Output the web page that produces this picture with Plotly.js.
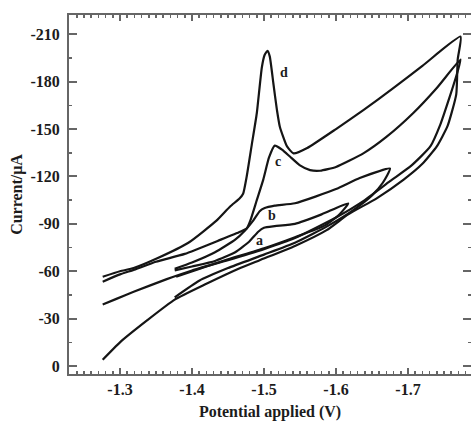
<!DOCTYPE html>
<html>
<head>
<meta charset="utf-8">
<script src="https://cdn.plot.ly/plotly-3.0.1.min.js"></script>
<style>
html,body{margin:0;padding:0;overflow:hidden;background:#fff;}
#chart{width:471px;height:421px;}
</style>
</head>
<body>
<div id="chart"></div>
<script>
// Curve a (forward then return)
var aX = [-1.376,-1.400,-1.432,-1.460,-1.480,-1.492,-1.500,-1.515,-1.543,-1.580,-1.617,
          -1.605,-1.585,-1.543,-1.500,-1.450,-1.410,-1.378];
var aY = [-60.5,-63,-66.5,-72,-79,-85,-87.5,-88.5,-90,-96,-103,
          -96,-89,-81.5,-74.5,-67.5,-61.5,-56.5];
// Curve b
var bX = [-1.376,-1.400,-1.432,-1.460,-1.474,-1.485,-1.494,-1.501,-1.515,-1.543,-1.600,-1.633,-1.675,
          -1.665,-1.650,-1.625,-1.590,-1.543,-1.500,-1.450,-1.410,-1.376];
var bY = [-61.5,-65.5,-72,-80,-86,-92,-98,-100,-101.5,-103,-112,-119,-125,
          -116,-108,-99,-89,-78,-70.5,-62,-54,-43.5];
// Curve c
var cX = [-1.276,-1.300,-1.320,-1.350,-1.390,-1.440,-1.467,-1.476,-1.481,-1.490,-1.499,-1.507,-1.515,-1.525,-1.536,-1.550,-1.564,-1.578,-1.600,-1.638,-1.670,-1.707,-1.740,-1.773,
          -1.768,-1.758,-1.745,-1.731,-1.705,-1.675,-1.640,-1.600,-1.543,-1.500,-1.450,-1.400,-1.365,-1.319,-1.295,-1.276];
var cY = [-53.4,-58,-61,-66,-71,-80,-85,-87,-92,-105,-118,-132,-139.5,-137,-132.6,-127,-124,-123.6,-126,-134.6,-145,-160,-176,-194,
          -185,-170.5,-153,-139,-127,-117,-105,-94,-81,-74,-67,-60.5,-55,-47,-42.5,-39];
// Curve d
var dX = [-1.276,-1.300,-1.319,-1.351,-1.395,-1.434,-1.453,-1.466,-1.471,-1.476,-1.483,-1.490,-1.497,-1.501,-1.505,-1.508,-1.513,-1.518,-1.522,-1.532,-1.541,-1.560,-1.600,-1.638,-1.680,-1.720,-1.773,
          -1.769,-1.767,-1.755,-1.740,-1.720,-1.694,-1.656,-1.617,-1.587,-1.543,-1.494,-1.467,-1.420,-1.376,-1.338,-1.300,-1.276];
var dY = [-56.5,-60,-62,-68,-78,-92,-101,-106,-109,-120,-140,-160,-189,-197,-199.5,-196,-179,-162,-151.5,-139,-134.6,-138,-150,-162,-176,-190,-208.5,
          -194,-172,-152,-139,-128,-118,-106,-96,-86,-76,-67,-62,-52,-42,-29,-15,-4];

var labels = ['a','b','c','d'];
var labelX = [-1.4944,-1.5107,-1.5199,-1.5278];
var labelY = [-79.3,-95,-129.3,-185.6];

var xTicks = [-1.3,-1.4,-1.5,-1.6,-1.7];
var xTickText = ['-1.3','-1.4','-1.5','-1.6','-1.7'];
var yTicks = [0,-30,-60,-90,-120,-150,-180,-210];
var yTickText = ['0','-30','-60','-90','-120','-150','-180','-210'];

var lineStyle = {color:'#151515', width:2.2, shape:'spline', smoothing:0.5};
function tr(x,y){ return {x:x, y:y, mode:'lines', line:lineStyle, hoverinfo:'skip', showlegend:false}; }
var data = [tr(aX,aY), tr(bX,bY), tr(cX,cY), tr(dX,dY)];
// invisible trace on the right-hand axis so its ticks are drawn
data.push({x:[xTicks[0]], y:[yTicks[0]], yaxis:'y2', mode:'markers', marker:{opacity:0}, hoverinfo:'skip', showlegend:false});

var fontFam = '"Liberation Serif","Times New Roman",serif';
var txtCol = '#1c1c1c';
var axCol = '#666';

var annotations = labels.map(function(t,i){
  return {x:labelX[i], y:labelY[i], text:t, showarrow:false, xref:'x', yref:'y',
          font:{family:fontFam, size:14, color:txtCol, weight:700}};
});

var yRange = [5.06,-222.2];
var layout = {
  width:471, height:421,
  margin:{l:69, r:0, t:15, b:47},
  paper_bgcolor:'#fff', plot_bgcolor:'#fff',
  showlegend:false,
  annotations: annotations,
  xaxis:{
    range:[-1.2292,-1.7875],
    tickmode:'array', tickvals:xTicks, ticktext:xTickText,
    ticks:'inside', ticklen:6, tickwidth:2, tickcolor:axCol,
    showline:true, linecolor:axCol, linewidth:2, mirror:'ticks',
    showgrid:false, zeroline:false,
    tickfont:{family:fontFam, size:16, color:txtCol, weight:700},
    minor:{dtick:0.01, tick0:0, ticks:'inside', ticklen:3, tickwidth:1.5, tickcolor:axCol, showgrid:false},
    title:{text:'Potential applied (V)', font:{family:fontFam, size:16, color:txtCol, weight:700}, standoff:10}
  },
  yaxis:{
    range:yRange,
    tickmode:'array', tickvals:yTicks, ticktext:yTickText,
    ticks:'inside', ticklen:8, tickwidth:2, tickcolor:axCol,
    showline:true, linecolor:axCol, linewidth:2, mirror:false,
    showgrid:false, zeroline:false,
    tickfont:{family:fontFam, size:16, color:txtCol, weight:700},
    ticklabelstandoff:4,
    minor:{dtick:15, tick0:0, ticks:'inside', ticklen:3, tickwidth:1.5, tickcolor:axCol, showgrid:false},
    title:{text:'Current/μA', font:{family:fontFam, size:16, color:txtCol, weight:700}, standoff:4}
  },
  yaxis2:{
    overlaying:'y', side:'right', range:yRange,
    tickmode:'array', tickvals:yTicks, showticklabels:false,
    ticks:'inside', ticklen:8, tickwidth:2, tickcolor:axCol,
    showline:false, showgrid:false, zeroline:false,
    minor:{dtick:15, tick0:0, ticks:'inside', ticklen:3, tickwidth:1.5, tickcolor:axCol, showgrid:false}
  }
};

Plotly.newPlot('chart', data, layout, {displayModeBar:false, staticPlot:true});
</script>
</body>
</html>
